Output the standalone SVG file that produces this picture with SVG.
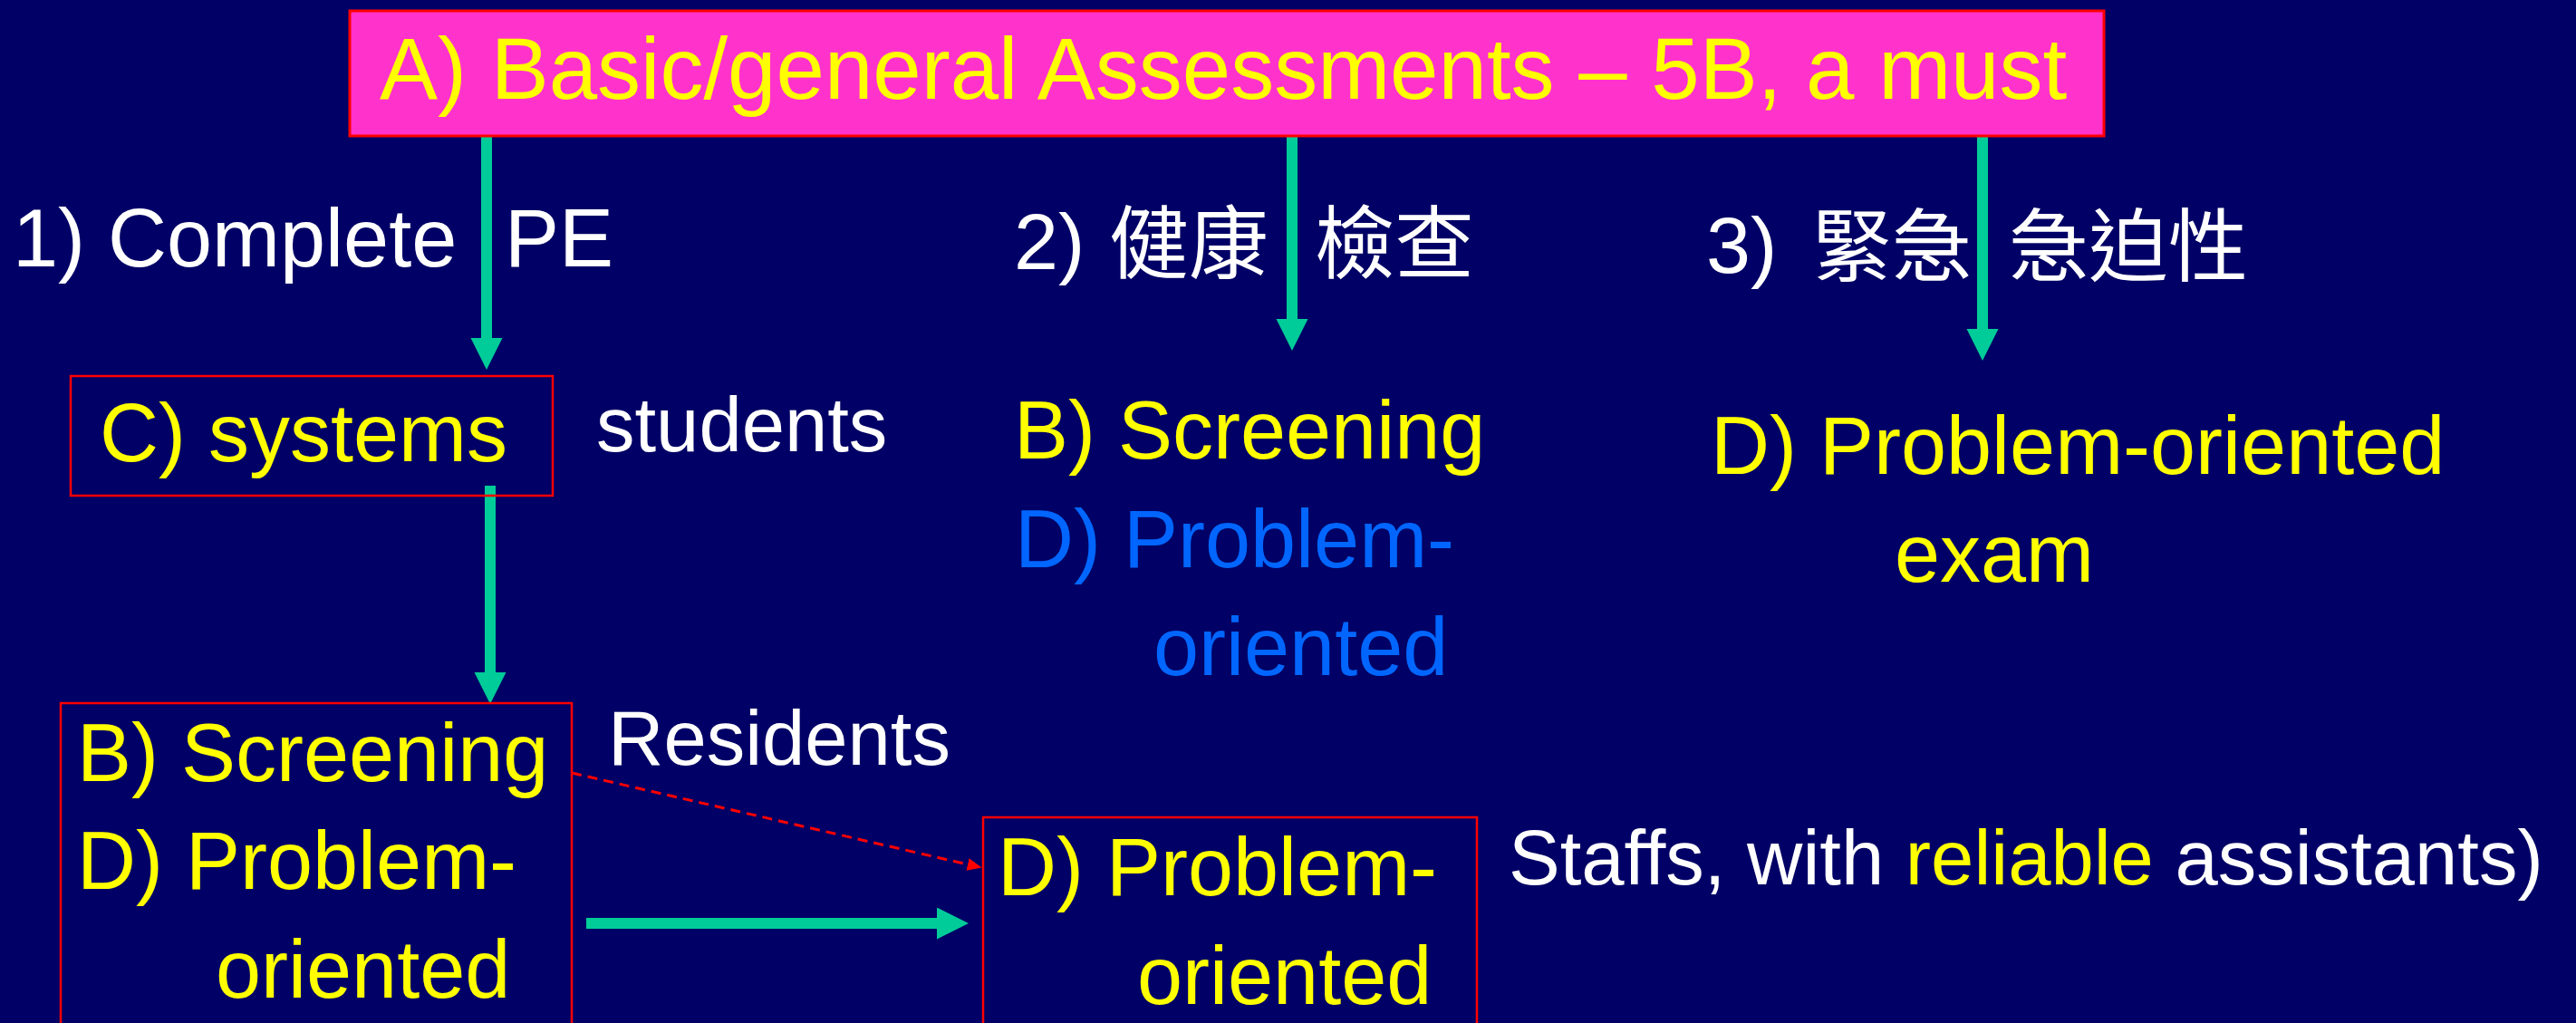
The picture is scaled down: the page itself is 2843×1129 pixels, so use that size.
<svg xmlns="http://www.w3.org/2000/svg" width="2843" height="1129" viewBox="0 0 2843 1129">
<defs>
<style>
text{font-family:"Liberation Sans",Arial,"Noto Sans CJK TC",sans-serif;font-size:90px}
.y{fill:#FFFF00}
.w{fill:#FFFFFF}
.b{fill:#0066FF}
.lbl{font-size:85px}
.cjk{font-family:"Liberation Sans","Noto Sans CJK TC",sans-serif;font-size:88px}
.box{fill:none;stroke:#FF0000;stroke-width:2.5}
.g{fill:none;stroke:#00CC99;stroke-width:12}
</style>
<marker id="gh" markerUnits="userSpaceOnUse" markerWidth="36" markerHeight="36" refX="0" refY="17.5" orient="auto" viewBox="0 0 36 36">
<path d="M0,0 L35,17.5 L0,35 Z" fill="#00CC99"/>
</marker>
<marker id="rh" markerUnits="userSpaceOnUse" markerWidth="17" markerHeight="15" refX="0" refY="7" orient="auto" viewBox="0 0 17 15">
<path d="M0,0 L16,7 L0,14 Z" fill="#FF0000"/>
</marker>
</defs>
<rect x="0" y="0" width="2843" height="1129" fill="#000066"/>

<g id="connectors">
<path class="g" d="M537,151 V373" marker-end="url(#gh)"/>
<path class="g" d="M1426,151 V352" marker-end="url(#gh)"/>
<path class="g" d="M2188,151 V363" marker-end="url(#gh)"/>
<path class="g" d="M541,536 V742" marker-end="url(#gh)"/>
<path class="g" d="M647,1019 H1034" marker-end="url(#gh)"/>
<path d="M631,853 L1068,954" fill="none" stroke="#FF0000" stroke-width="3" stroke-dasharray="11 7" marker-end="url(#rh)"/>
</g>

<g id="nodeA">
<rect x="386" y="12" width="1936" height="138" fill="#FF33CC" stroke="#FF0000" stroke-width="3"/>
<text class="y" x="419" y="109" style="font-size:96px">A) Basic/general Assessments – 5B, a must</text>
</g>

<g id="label1">
<text class="w" x="14" y="294">1) Complete<tspan x="557">PE</tspan></text>
</g>

<g id="label2">
<text class="w cjk" x="1119" y="297">2) <tspan x="1224" y="300">健康</tspan><tspan x="1451" y="300">檢查</tspan></text>
</g>

<g id="label3">
<text class="w cjk" x="1883" y="301">3) <tspan x="2000" y="303">緊急</tspan><tspan x="2217" y="303">急迫性</tspan></text>
</g>

<g id="nodeC">
<rect class="box" x="78" y="415" width="532" height="132"/>
<text class="y" x="110" y="509">C) systems</text>
</g>

<g id="students">
<text class="w lbl" x="658" y="498">students</text>
</g>

<g id="nodeMid">
<text class="y" x="1119" y="506">B) Screening</text>
<text class="b" x="1120" y="626">D) Problem-</text>
<text class="b" x="1273" y="745">oriented</text>
</g>

<g id="nodeRight">
<text class="y" x="1888" y="523">D) Problem-oriented</text>
<text class="y" x="2091" y="642">exam</text>
</g>

<g id="nodeLowerLeft">
<rect class="box" x="67" y="776" width="564" height="420"/>
<text class="y" x="85" y="862">B) Screening</text>
<text class="y" x="85" y="981">D) Problem-</text>
<text class="y" x="238" y="1101">oriented</text>
</g>

<g id="residents">
<text class="w lbl" x="671" y="844">Residents</text>
</g>

<g id="nodeLowerRight">
<rect class="box" x="1085" y="902" width="545" height="300"/>
<text class="y" x="1101" y="988">D) Problem-</text>
<text class="y" x="1255" y="1108">oriented</text>
</g>

<g id="staffs">
<text class="w lbl" x="1665" y="976">Staffs, with <tspan class="y">reliable</tspan> assistants)</text>
</g>
</svg>
